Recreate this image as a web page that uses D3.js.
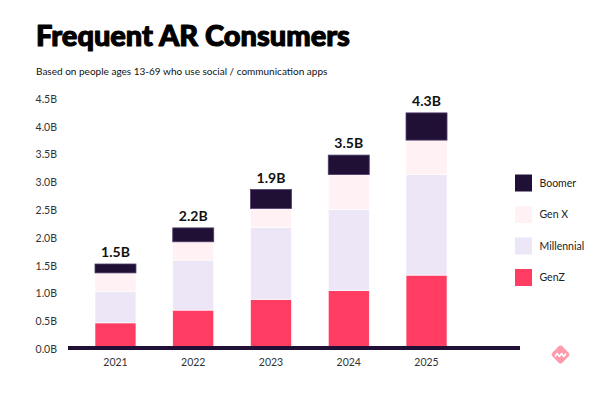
<!DOCTYPE html>
<html>
<head>
<meta charset="utf-8">
<script src="https://cdn.jsdelivr.net/npm/d3@7"></script>
<style>
  html, body { margin: 0; padding: 0; background: #ffffff; }
  svg { display: block; }
</style>
</head>
<body>
<svg id="chart" width="608" height="398"></svg>
<script>
const years = ["2021", "2022", "2023", "2024", "2025"];
const seriesNames = ["GenZ", "Millennial", "Gen X", "Boomer"];
const genZ =       [0.47, 0.70, 0.89, 1.05, 1.33];
const millennial = [0.57, 0.90, 1.30, 1.46, 1.81];
const genX =       [0.33, 0.33, 0.34, 0.63, 0.62];
const boomer =     [0.16, 0.25, 0.34, 0.35, 0.49];
const totalLabels = ["1.5B", "2.2B", "1.9B", "3.5B", "4.3B"];
const yTicks = [0, 0.5, 1, 1.5, 2, 2.5, 3, 3.5, 4, 4.5];
const legendOrder = ["Boomer", "Gen X", "Millennial", "GenZ"];

const colors = { "GenZ": "#ff3d62", "Millennial": "#ede6f7", "Gen X": "#fff1f4", "Boomer": "#211036" };

const svg = d3.select("#chart");

const rows = years.map((y, i) => ({ year: y, "GenZ": genZ[i], "Millennial": millennial[i], "Gen X": genX[i], "Boomer": boomer[i] }));
const stacked = d3.stack().keys(seriesNames)(rows);

const x = d3.scaleBand().domain(years).range([76.6, 465.4]).paddingInner(0.473).paddingOuter(0.2365);
const y = d3.scaleLinear().domain([0, 4.5]).range([349, 99]);

// Title
const title = svg.append("text").attr("x", 36).attr("y", 46)
  .style("font-family", "Lato, 'Open Sans', sans-serif").style("font-weight", 900)
  .style("font-size", "27px").style("fill", "#000")
  .style("stroke", "#000").style("stroke-width", "1.1px").style("stroke-linejoin", "round")
  .text("Frequent AR Consumers");
let tw = title.node().getComputedTextLength();
title.style("font-size", (27 * 314 / tw) + "px");

const sub = svg.append("text").attr("x", 36).attr("y", 75)
  .style("font-family", "Lato, 'Open Sans', sans-serif").style("font-weight", 400)
  .style("font-size", "10.5px").style("fill", "#111").text("Based on people ages 13-69 who use social / communication apps");
let sw = sub.node().getComputedTextLength();
sub.style("font-size", (10.5 * 292 / sw) + "px");

// Y axis
const yAxis = svg.append("g").attr("transform", "translate(57,0)")
  .call(d3.axisLeft(y).tickValues(yTicks).tickSize(0).tickPadding(0).tickFormat(d => d3.format(".1f")(d) + "B"));
yAxis.select(".domain").remove();
yAxis.selectAll("text").style("font-family", "Lato, 'Open Sans', sans-serif").style("font-size", "10.5px").style("fill", "#333");

// Bars
const layers = svg.append("g").selectAll("g").data(stacked).join("g")
  .attr("fill", d => colors[d.key]);
layers.selectAll("rect").data(d => d.map(v => Object.assign(v, { key: d.key }))).join("rect")
  .attr("x", d => x(d.data.year))
  .attr("width", x.bandwidth())
  .attr("y", d => y(d[1]))
  .attr("height", d => y(d[0]) - y(d[1]))
  .attr("stroke", d => d.key === "Boomer" ? "#4d3d6b" : "#ffffff")
  .attr("stroke-width", d => d.key === "Boomer" ? 0.8 : 0.6);

// Total labels
const tops = stacked[stacked.length - 1];
svg.append("g").selectAll("text").data(years).join("text")
  .attr("x", d => x(d) + x.bandwidth() / 2)
  .attr("y", (d, i) => y(tops[i][1]) - 7)
  .attr("text-anchor", "middle")
  .style("font-family", "Lato, 'Open Sans', sans-serif").style("font-weight", 700)
  .style("font-size", "14px").style("fill", "#111")
  .text((d, i) => totalLabels[i]);

// Baseline
svg.append("line").attr("x1", 68).attr("x2", 520).attr("y1", y(0) - 1).attr("y2", y(0) - 1)
  .attr("stroke", "#211036").attr("stroke-width", 4);

// X axis labels
const xAxis = svg.append("g").attr("transform", `translate(0,${y(0) + 1})`)
  .call(d3.axisBottom(x).tickSize(0).tickPadding(9));
xAxis.select(".domain").remove();
xAxis.selectAll("text").style("font-family", "Lato, 'Open Sans', sans-serif").style("font-size", "10.5px").style("fill", "#333");

// Legend
const legend = svg.append("g").selectAll("g").data(legendOrder).join("g")
  .attr("transform", (d, i) => `translate(515,${174.5 + i * 31.5})`);
legend.append("rect").attr("width", 17).attr("height", 17).attr("fill", d => colors[d]);
legend.append("text").attr("x", 24.5).attr("y", 8.5).attr("dy", "0.35em")
  .style("font-family", "Lato, 'Open Sans', sans-serif").style("font-size", "10.5px").style("fill", "#222")
  .text(d => d);

// Logo
const logo = svg.append("g").attr("transform", "translate(560.5,354.5)");
logo.append("rect").attr("x", -7).attr("y", -7).attr("width", 14).attr("height", 14).attr("rx", 2.5)
  .attr("transform", "rotate(45)").attr("fill", "#ff9aab");
logo.append("path").attr("d", "M-5.5,2 L-3.3,-1 L-1.1,2 L1.1,-1 L3.3,2 L5.5,-1")
  .attr("fill", "none").attr("stroke", "#fff").attr("stroke-width", 1.6).attr("stroke-linejoin", "round");
</script>
</body>
</html>
